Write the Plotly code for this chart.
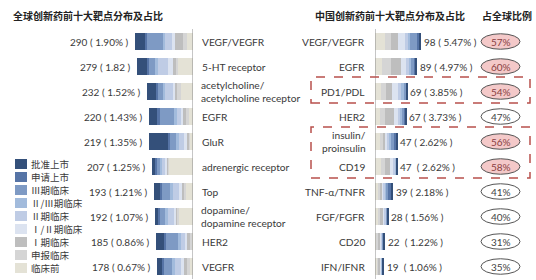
import plotly.graph_objects as go

# ---------------- data ----------------
stages = ["批准上市", "申请上市", "Ⅲ期临床", "Ⅱ/Ⅲ期临床", "Ⅱ期临床",
          "Ⅰ/Ⅱ期临床", "Ⅰ期临床", "申报临床", "临床前"]
stage_colors = ["#34507A", "#5674A6", "#7E9AC4", "#A2BBDC", "#BFCCE5",
                "#DCE3F0", "#BEBEBE", "#D5D5D5", "#E4E2D6"]

global_targets = ["VEGF/VEGFR", "5-HT receptor", "acetylcholine/<br>acetylcholine receptor",
                  "EGFR", "GluR", "adrenergic receptor", "Top",
                  "dopamine/<br>dopamine receptor", "HER2", "VEGFR"]
global_counts = [290, 279, 232, 220, 219, 207, 193, 192, 185, 178]
global_pct = ["1.90%", "1.82", "1.52%", "1.43%", "1.35%", "1.25%", "1.21%",
              "1.07%", "0.86%", "0.67%"]

# estimated stage breakdown, global top-10 targets
g_approved = [50, 50, 45, 40, 95, 15, 30, 15, 40, 25]
g_nda      = [10, 10, 10, 15, 10, 10, 10, 10, 10, 10]
g_ph3      = [80, 30, 25, 70, 30, 15, 40, 25, 60, 40]
g_ph23     = [10, 15, 10, 15, 15, 10, 15, 15, 15, 15]
g_ph2      = [35, 50, 40, 20, 25, 15, 30, 30, 20, 30]
g_ph12     = [15, 25, 12, 10, 15, 10, 15, 12, 10, 15]
g_ph1      = [40, 15, 10, 15, 5, 5, 10, 5, 15, 15]
g_ind      = [20, 10, 20, 15, 5, 7, 8, 10, 10, 13]
g_pre      = [30, 74, 60, 20, 19, 120, 35, 70, 5, 15]

china_targets = ["VEGF/VEGFR", "EGFR", "PD1/PDL", "HER2", "insulin/<br>proinsulin",
                 "CD19", "TNF-α/TNFR", "FGF/FGFR", "CD20", "IFN/IFNR"]
china_counts = [98, 89, 69, 67, 47, 47, 39, 28, 22, 19]
china_pct = ["5.47%", "4.97%", "3.85%", "3.73%", "2.62%", "2.62%", "2.18%",
             "1.56%", "1.22%", "1.06%"]
china_gap = [" ", " ", " ", " ", " ", "\u00a0\u00a0", " ", " ", "\u00a0\u00a0", "\u00a0\u00a0"]

# estimated stage breakdown, China top-10 targets
c_approved = [3, 3, 1, 2, 2, 1, 6, 2, 3, 2]
c_nda      = [5, 3, 2, 2, 3, 0, 4, 0, 1, 1]
c_ph3      = [15, 6, 5, 5, 8, 1, 5, 1, 2, 1]
c_ph23     = [5, 5, 4, 4, 3, 1, 2, 1, 1, 1]
c_ph2      = [6, 6, 8, 6, 5, 4, 3, 3, 2, 1]
c_ph12     = [15, 11, 12, 8, 5, 8, 4, 5, 2, 2]
c_ph1      = [14, 20, 13, 18, 5, 10, 4, 5, 4, 3]
c_ind      = [14, 20, 12, 12, 6, 10, 5, 5, 3, 3]
c_pre      = [21, 15, 12, 10, 10, 12, 6, 6, 4, 5]

global_share = [57, 60, 54, 47, 56, 58, 41, 40, 31, 35]

global_stages = [g_approved, g_nda, g_ph3, g_ph23, g_ph2, g_ph12, g_ph1, g_ind, g_pre]
china_stages = [c_approved, c_nda, c_ph3, c_ph23, c_ph2, c_ph12, c_ph1, c_ind, c_pre]

# ---------------- figure ----------------
W, H = 536, 280
FONT = "Noto Sans CJK SC, Noto Sans, sans-serif"
LATIN = "Lato, Noto Sans CJK SC, sans-serif"
TXT = "#3a3a3a"
LBL = 10
NAME = 10.2

rows = list(range(len(global_targets)))
fig = go.Figure()

# stack from axis outward: pre-clinical first, approved last
for k in reversed(range(len(stages))):
    fig.add_trace(go.Bar(
        y=rows, x=global_stages[k], orientation="h", name=stages[k],
        marker=dict(color=stage_colors[k], line=dict(width=0)),
        xaxis="x", yaxis="y", showlegend=False, hoverinfo="skip"))
    fig.add_trace(go.Bar(
        y=rows, x=china_stages[k], orientation="h", name=stages[k],
        marker=dict(color=stage_colors[k], line=dict(width=0)),
        xaxis="x2", yaxis="y", showlegend=False, hoverinfo="skip"))

px_row0, px_step = 41.5, 25.0
y_top = -px_row0 / px_step
y_bot = (H - px_row0) / px_step

left_axis_px, right_axis_px = 193, 375
left_scale, right_scale = 0.2, 0.47  # px per unit

fig.update_layout(
    width=W, height=H, margin=dict(l=0, r=0, t=0, b=0),
    paper_bgcolor="white", plot_bgcolor="rgba(0,0,0,0)",
    barmode="stack", bargap=0.3, showlegend=False,
    font=dict(family=FONT, size=11, color=TXT),
    xaxis=dict(domain=[0, left_axis_px / W], range=[left_axis_px / left_scale, 0],
               visible=False, anchor="y", fixedrange=True),
    xaxis2=dict(domain=[right_axis_px / W, 1],
                range=[0, (W - right_axis_px) / right_scale],
                visible=False, anchor="y", fixedrange=True),
    yaxis=dict(range=[y_bot, y_top], visible=False, fixedrange=True),
)

ann = []
shapes = []

def py(p):  # pixel-from-top to paper y
    return 1 - p / H

def name_ann(label, i, x_px, anchor):
    parts = label.split("<br>")
    if len(parts) == 1:
        ann.append(dict(text=label, x=x_px / W, y=i, xref="paper", yref="y",
                        xanchor=anchor, yanchor="middle", showarrow=False,
                        font=dict(family=LATIN, size=NAME, color=TXT)))
    else:
        for j, part in enumerate(parts):
            ann.append(dict(text=part, x=x_px / W, y=i, xref="paper", yref="y",
                            xanchor=anchor, yanchor="middle", showarrow=False,
                            yshift=6.2 - 12.4 * j, borderpad=0,
                            font=dict(family=LATIN, size=NAME, color=TXT)))

# titles
for txt, x0 in [("全球创新药前十大靶点分布及占比", 11),
                ("中国创新药前十大靶点分布及占比", 313),
                ("占全球比例", 480)]:
    ann.append(dict(text=f"<b>{txt}</b>", x=x0 / W, y=py(15),
                    xref="paper", yref="paper", xanchor="left", yanchor="middle",
                    showarrow=False, font=dict(size=10, color="#222")))

for i in rows:
    gtot = sum(s[i] for s in global_stages)
    ctot = sum(s[i] for s in china_stages)
    # left value labels
    ann.append(dict(text=f"{global_counts[i]} ( {global_pct[i]} )", x=gtot, y=i,
                    xref="x", yref="y", xanchor="right", yanchor="middle",
                    xshift=-4, showarrow=False,
                    font=dict(family=LATIN, size=LBL, color=TXT)))
    # names
    name_ann(global_targets[i], i, 200, "left")
    name_ann(china_targets[i], i, 367, "right")
    # right value labels
    ann.append(dict(text=f"{china_counts[i]}{china_gap[i]}( {china_pct[i]} )", x=ctot, y=i,
                    xref="x2", yref="y", xanchor="left", yanchor="middle",
                    xshift=1, showarrow=False,
                    font=dict(family=LATIN, size=LBL, color=TXT)))
    # share ovals
    hi = global_share[i] > 50
    shapes.append(dict(type="circle", xref="paper", yref="y",
                       x0=481 / W, x1=520 / W, y0=i - 0.31, y1=i + 0.31,
                       fillcolor="#F4C9C9" if hi else "white",
                       line=dict(color="#555", width=1)))
    ann.append(dict(text=f"{global_share[i]}%", x=500.5 / W, y=i, xref="paper", yref="y",
                    xanchor="center", yanchor="middle", showarrow=False,
                    font=dict(family=LATIN, size=LBL, color="#8a3f3f" if hi else "#444")))

# axis lines
shapes.append(dict(type="line", xref="x", yref="paper", x0=0, x1=0,
                   y0=py(279), y1=py(29), line=dict(color="#8c8c8c", width=1)))
shapes.append(dict(type="line", xref="x2", yref="paper", x0=0, x1=0,
                   y0=py(279), y1=py(29), line=dict(color="#8c8c8c", width=1)))

# dashed highlight boxes
for (t, b) in [(77, 103), (127, 178)]:
    shapes.append(dict(type="rect", xref="paper", yref="paper",
                       x0=311 / W, x1=530 / W, y0=py(b), y1=py(t),
                       line=dict(color="#B8504C", width=1.5, dash="dash"),
                       fillcolor="rgba(0,0,0,0)"))

# custom legend
for k, name in enumerate(stages):
    cy = 164 + 13 * k
    shapes.append(dict(type="rect", xref="paper", yref="paper",
                       x0=15 / W, x1=27 / W, y0=py(cy + 5), y1=py(cy - 5),
                       fillcolor=stage_colors[k], line=dict(width=0)))
    ann.append(dict(text=name, x=29 / W, y=py(cy), xref="paper", yref="paper",
                    xanchor="left", yanchor="middle", showarrow=False,
                    font=dict(size=9.5, color=TXT)))

fig.update_layout(annotations=ann, shapes=shapes)
fig.write_html("out.html")
